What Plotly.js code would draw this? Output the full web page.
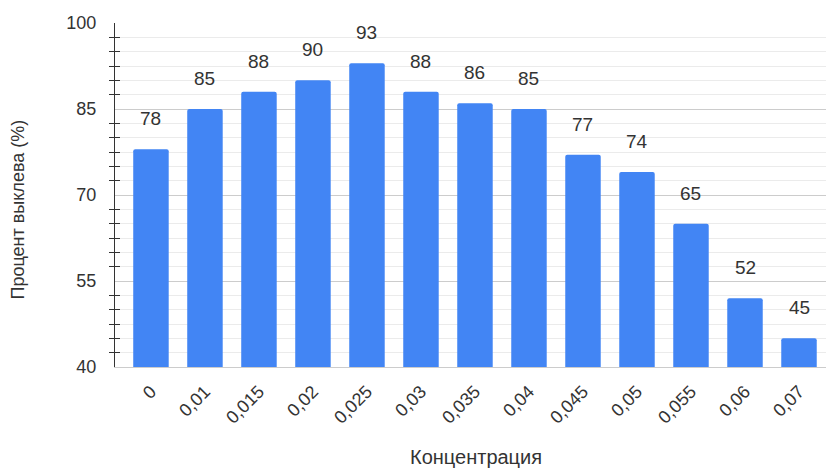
<!DOCTYPE html>
<html>
<head>
<meta charset="utf-8">
<script src="https://cdn.plot.ly/plotly-3.0.1.min.js"></script>
<style>html,body{margin:0;padding:0;background:#fff;}#chart{width:827px;height:468px;}</style>
</head>
<body>
<div id="chart"></div>
<script>
const categories = ["0", "0,01", "0,015", "0,02", "0,025", "0,03", "0,035", "0,04", "0,045", "0,05", "0,055", "0,06", "0,07"];
const hatchRate = [78, 85, 88, 90, 93, 88, 86, 85, 77, 74, 65, 52, 45];
const yTitle = "Процент выклева (%)";
const xTitle = "Концентрация";

const FONT = "Arial, 'Liberation Sans', sans-serif";
const TXT = "#333333";

const traces = [
  {
    type: "bar",
    x: categories,
    y: hatchRate,
    marker: {color: "#4285F4", cornerradius: 2},
    hoverinfo: "x+y"
  },
  {
    type: "scatter",
    mode: "none",
    x: categories,
    y: hatchRate,
    yaxis: "y2",
    hoverinfo: "skip",
    showlegend: false
  }
];

const annotations = categories.map((c, i) => ({
  x: c, y: hatchRate[i], xref: "x", yref: "y",
  text: String(hatchRate[i]), showarrow: false,
  yanchor: "bottom", xanchor: "center", yshift: 18,
  font: {family: FONT, size: 19, color: TXT}
}));
annotations.push({
  xref: "paper", yref: "paper", x: -0.1364, y: 0.458,
  xanchor: "center", yanchor: "middle", textangle: -90,
  text: yTitle, showarrow: false,
  font: {family: FONT, size: 18, color: TXT}
});
annotations.push({
  xref: "paper", yref: "paper", x: 0.5077, y: -0.263,
  xanchor: "center", yanchor: "middle",
  text: xTitle, showarrow: false,
  font: {family: FONT, size: 20, color: TXT}
});

const layout = {
  width: 827, height: 468,
  margin: {l: 115, r: 1, t: 23, b: 101},
  paper_bgcolor: "#ffffff", plot_bgcolor: "#ffffff",
  showlegend: false,
  bargap: 0.343,
  font: {family: FONT, size: 18, color: TXT},
  xaxis: {
    type: "category",
    range: [-0.666, 12.5],
    tickangle: -45,
    ticks: "",
    showgrid: false,
    showline: true, linecolor: "#cccccc", linewidth: 1,
    tickfont: {family: FONT, size: 18, color: TXT},
    ticklabelstandoff: 6,
    fixedrange: true
  },
  yaxis: {
    range: [40, 100],
    tick0: 40, dtick: 15,
    ticks: "",
    showgrid: true, gridcolor: "#cccccc", gridwidth: 1,
    zeroline: false,
    showline: true, linecolor: "#333333", linewidth: 1,
    tickfont: {family: FONT, size: 18, color: TXT},
    ticklabelstandoff: 14,
    minor: {dtick: 2.5, showgrid: true, gridcolor: "#ebebeb", gridwidth: 1,
            ticks: "outside", ticklen: 5, tickcolor: "#333333", tickwidth: 1},
    fixedrange: true
  },
  yaxis2: {
    overlaying: "y", side: "left", anchor: "x",
    range: [40, 100], tick0: 40, dtick: 15,
    ticks: "", showgrid: false, showticklabels: false, zeroline: false, showline: false,
    minor: {dtick: 2.5, showgrid: false, ticks: "inside", ticklen: 5, tickcolor: "#333333", tickwidth: 1},
    fixedrange: true
  },
  annotations: annotations
};

Plotly.newPlot("chart", traces, layout, {displayModeBar: false, responsive: false});
</script>
</body>
</html>
